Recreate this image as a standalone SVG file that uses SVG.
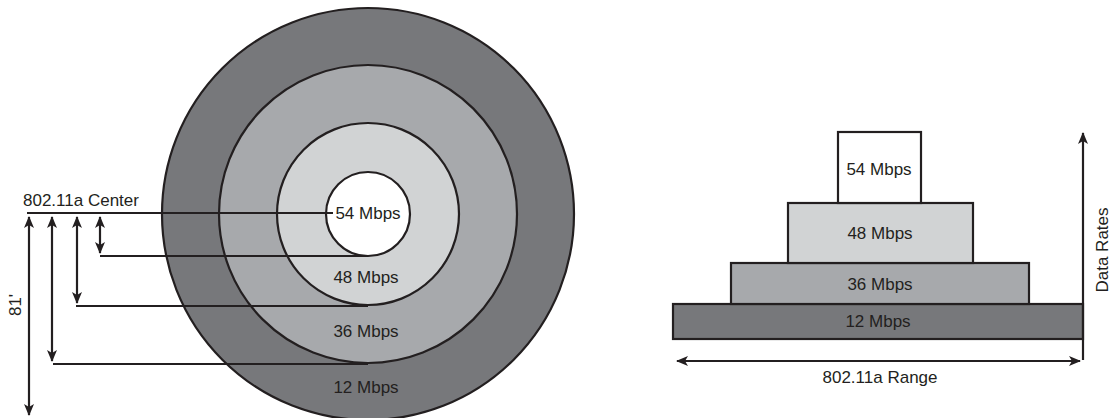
<svg xmlns="http://www.w3.org/2000/svg" width="1114" height="418" viewBox="0 0 1114 418">
<style>
.t{font-family:"Liberation Sans",Arial,sans-serif;font-size:17px;fill:#231f20}
.s{stroke:#231f20;stroke-width:2.2}
.ln{stroke:#231f20;stroke-width:2.2;fill:none}
.c1{fill:#77787b}.c2{fill:#a7a9ac}.c3{fill:#d1d3d4}.c4{fill:#fff}
</style>
<defs>
<marker id="ah" viewBox="0 0 12 10" refX="11" refY="5" markerWidth="12" markerHeight="10" markerUnits="userSpaceOnUse" orient="auto-start-reverse">
<path d="M0,0 L12,5 L0,10 L3,5 Z" fill="#231f20"/>
</marker>
</defs>
<rect width="1114" height="418" fill="#fff"/>
<g id="ring-12"><circle cx="368" cy="214" r="206" class="c1 s"/></g>
<g id="ring-36"><circle cx="368" cy="214" r="149" class="c2 s"/></g>
<g id="ring-48"><circle cx="368" cy="214" r="91" class="c3 s"/></g>
<g id="ring-54"><circle cx="368" cy="214" r="42" class="c4 s"/></g>
<g id="circle-labels">
<text class="t" x="368" y="219" text-anchor="middle">54 Mbps</text>
<text class="t" x="366" y="283" text-anchor="middle">48 Mbps</text>
<text class="t" x="366" y="337" text-anchor="middle">36 Mbps</text>
<text class="t" x="366" y="393" text-anchor="middle">12 Mbps</text>
</g>
<g id="center-label"><text class="t" x="23" y="206">802.11a Center</text></g>
<g id="label-81"><text class="t" transform="translate(21,305) rotate(-90)" text-anchor="middle">81'</text></g>
<g id="pyr-12"><rect x="673" y="304" width="410" height="35" class="c1 s"/><text class="t" x="878" y="327" text-anchor="middle">12 Mbps</text></g>
<g id="pyr-36"><rect x="731" y="263" width="298" height="41" class="c2 s"/><text class="t" x="880" y="290" text-anchor="middle">36 Mbps</text></g>
<g id="pyr-48"><rect x="788" y="203" width="185" height="60" class="c3 s"/><text class="t" x="880" y="239" text-anchor="middle">48 Mbps</text></g>
<g id="pyr-54"><rect x="838" y="132" width="83" height="71" class="c4 s"/><text class="t" x="879" y="175" text-anchor="middle">54 Mbps</text></g>
<g id="range-label"><text class="t" x="880" y="383" text-anchor="middle">802.11a Range</text></g>
<g id="rates-label"><text class="t" transform="translate(1108,250) rotate(-90)" text-anchor="middle">Data Rates</text></g>
<g id="connectors">
<line x1="27" y1="213" x2="333" y2="213" class="ln"/>
<line x1="100" y1="256" x2="368" y2="256" class="ln"/>
<line x1="76" y1="306" x2="368" y2="306" class="ln"/>
<line x1="53" y1="364" x2="368" y2="364" class="ln"/>
<line x1="100" y1="217" x2="100" y2="253" class="ln" marker-start="url(#ah)" marker-end="url(#ah)"/>
<line x1="77" y1="217" x2="77" y2="303" class="ln" marker-start="url(#ah)" marker-end="url(#ah)"/>
<line x1="52" y1="217" x2="52" y2="361" class="ln" marker-start="url(#ah)" marker-end="url(#ah)"/>
<line x1="29" y1="217" x2="29" y2="415" class="ln" marker-start="url(#ah)" marker-end="url(#ah)"/>
<line x1="1083" y1="360" x2="1083" y2="133" class="ln" marker-end="url(#ah)"/>
<line x1="677" y1="361" x2="1080" y2="361" class="ln" marker-start="url(#ah)" marker-end="url(#ah)"/>
</g>
</svg>
